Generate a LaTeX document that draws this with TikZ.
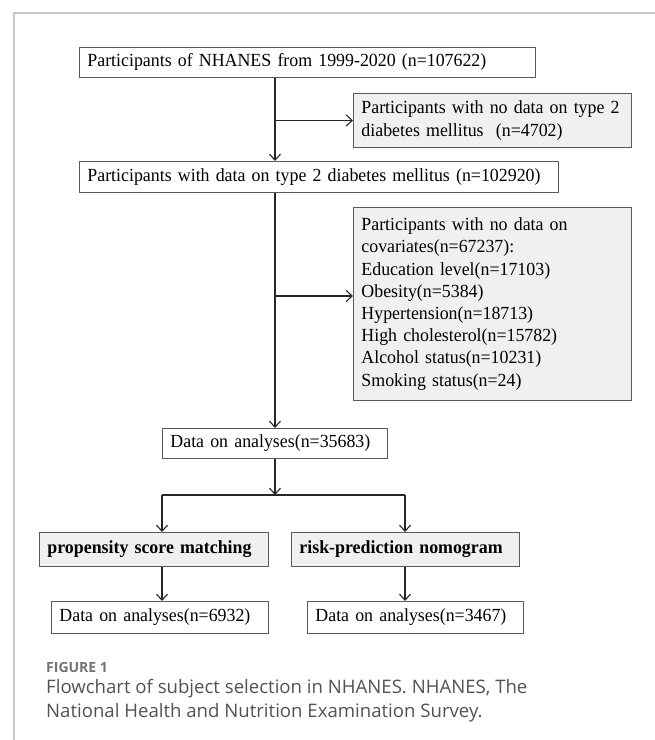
\documentclass[tikz,border=0pt]{standalone}
\usepackage{fontspec}
\setmainfont[FakeStretch=0.965]{Liberation Serif}
\newfontfamily\capfont{Open Sans}
\usetikzlibrary{arrows.meta,calc,positioning}

\begin{document}
\begin{tikzpicture}[x=1pt, y=-1pt,
    box/.style={draw=black!65, line width=0.9pt, fill=white, anchor=north west,
      align=left, inner xsep=8pt, inner ysep=0pt,
      font=\fontsize{18.5}{22.2}\selectfont},
    greybox/.style={box, fill=black!6},
    flow/.style={draw=black!85, line width=1.1pt, -{Straight Barb[length=6pt,width=11pt]}},
    link/.style={draw=black!85, line width=1.1pt},
    frame/.style={draw=black!22, line width=1.5pt}]
    \useasboundingbox (0,0) rectangle (655,740);
    \draw[frame] (14,740) -- (14,13) -- (655,13);

    % main column
    \node[box, text width=440pt, minimum height=30pt] (start) at (79,47)
      {Participants of NHANES from 1999-2020 (n=107622)};
    \node[greybox, text width=262pt, minimum height=54pt] (nodiab) at (353,93)
      {Participants with no data on type 2\\diabetes mellitus\ \ (n=4702)};
    \node[box, text width=463pt, minimum height=31pt] (withdiab) at (79,161)
      {Participants with data on type 2 diabetes mellitus (n=102920)};
    \node[greybox, text width=262pt, minimum height=193pt] (nocov) at (353,207)
      {Participants with no data on\\covariates(n=67237):\\Education level(n=17103)\\Obesity(n=5384)\\Hypertension(n=18713)\\High cholesterol(n=15782)\\Alcohol status(n=10231)\\Smoking status(n=24)};
    \node[box, text width=209pt, minimum height=30pt] (analysis) at (162,428)
      {Data on analyses(n=35683)};

    % two branches
    \node[greybox, text width=213pt, minimum height=34pt] (psm) at (39,532)
      {\textbf{propensity score matching}};
    \node[greybox, text width=212pt, minimum height=34pt] (nomo) at (291,532)
      {\textbf{risk-prediction nomogram}};
    \node[box, text width=201pt, minimum height=32pt] (psmdata) at (51,601)
      {Data on analyses(n=6932)};
    \node[box, text width=200pt, minimum height=32pt] (nomodata) at (307,601)
      {Data on analyses(n=3467)};

    % connectors
    \coordinate (spine) at (275,0);
    \coordinate (side) at (275,296);
    \coordinate (split) at (275,495);
    \coordinate (leftleg) at (162,495);
    \coordinate (rightleg) at (405,495);
    \draw[flow] (start.south -| spine) -- (withdiab.north -| spine);
    \draw[flow] (spine |- nodiab.west) -- (nodiab.west);
    \draw[flow] (withdiab.south -| spine) -- (analysis.north -| spine);
    \draw[flow] (side) -- (side -| nocov.west);
    \draw[flow] (analysis.south -| split) -- (split);
    \draw[link] (leftleg) -- (rightleg);
    \draw[flow] (leftleg) -- (leftleg |- psm.north);
    \draw[flow] (rightleg) -- (rightleg |- nomo.north);
    \draw[flow] (psm.south -| leftleg) -- (psmdata.north -| leftleg);
    \draw[flow] (nomo.south -| rightleg) -- (nomodata.north -| rightleg);

    % caption
    \node[anchor=west, inner sep=0pt, text=black!55, font=\capfont\bfseries\fontsize{14}{16}\selectfont]
      (figlabel) at (46,667) {FIGURE 1};
    \node[anchor=north west, inner sep=0pt, align=left, text=black!68,
      font=\capfont\fontsize{18.6}{24}\selectfont] (caption) at (46,679)
      {Flowchart of subject selection in NHANES. NHANES, The\\National Health and Nutrition Examination Survey.};
\end{tikzpicture}
\end{document}
